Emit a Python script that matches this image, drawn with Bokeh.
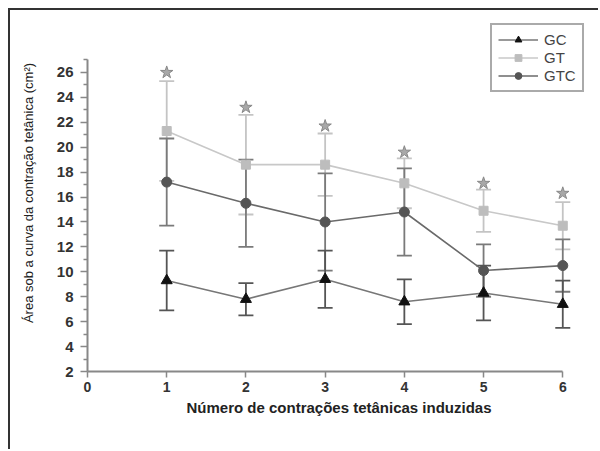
from bokeh.plotting import figure
from bokeh.models import Range1d, Whisker, ColumnDataSource, Legend, LegendItem, FixedTicker, TeeHead
from bokeh.embed import file_html
from bokeh.resources import INLINE

# ---- data ----
contractions = [1, 2, 3, 4, 5, 6]
gc = [9.3, 7.8, 9.4, 7.6, 8.3, 7.4]
gc_err = [2.4, 1.3, 2.3, 1.8, 2.2, 1.9]
gt = [21.3, 18.6, 18.6, 17.1, 14.9, 13.7]
gt_err = [4.0, 4.0, 2.5, 2.0, 1.7, 1.9]
gtc = [17.2, 15.5, 14.0, 14.8, 10.1, 10.5]
gtc_err = [3.5, 3.5, 3.9, 3.5, 2.1, 2.1]
star_y = [26.0, 23.2, 21.7, 19.6, 17.1, 16.3]
y_ticks = [2, 4, 6, 8, 10, 12, 14, 16, 18, 20, 22, 24, 26]
y_minor = [3, 5, 7, 9, 11, 13, 15, 17, 19, 21, 23, 25, 27]
x_ticks = [0, 1, 2, 3, 4, 5, 6]

FONT = "Liberation Sans"

p = figure(width=590, height=441, output_backend="svg", toolbar_location=None,
           x_range=Range1d(0, 6.35), y_range=Range1d(2, 30.65),
           min_border_left=77, min_border_right=10, min_border_top=4, min_border_bottom=80,
           styles={"margin-left": "8px", "margin-top": "8px",
                   "border-left": "2px solid #333", "border-top": "2px solid #333"})
p.outline_line_color = None
p.xgrid.visible = False
p.ygrid.visible = False

def src(y, e):
    return ColumnDataSource(dict(x=contractions, y=y,
                                 upper=[a + b for a, b in zip(y, e)],
                                 lower=[a - b for a, b in zip(y, e)]))

s_gc, s_gt, s_gtc = src(gc, gc_err), src(gt, gt_err), src(gtc, gtc_err)

def whisk(s, color):
    w = Whisker(source=s, base="x", upper="upper", lower="lower",
                line_color=color, line_width=1.8,
                upper_head=TeeHead(size=15, line_color=color, line_width=1.8),
                lower_head=TeeHead(size=15, line_color=color, line_width=1.8))
    p.add_layout(w)

whisk(s_gt, "#c4c4c4")
whisk(s_gtc, "#7a7a7a")
whisk(s_gc, "#555555")

l_gt = p.line("x", "y", source=s_gt, line_color="#c8c8c8", line_width=1.6)
m_gt = p.scatter("x", "y", source=s_gt, marker="square", size=9, fill_color="#bdbdbd", line_color="#bdbdbd")
l_gtc = p.line("x", "y", source=s_gtc, line_color="#6a6a6a", line_width=1.6)
m_gtc = p.scatter("x", "y", source=s_gtc, marker="circle", size=10, fill_color="#555555", line_color="#555555")
l_gc = p.line("x", "y", source=s_gc, line_color="#777777", line_width=1.6)
m_gc = p.scatter("x", "y", source=s_gc, marker="triangle", size=11, fill_color="#111111", line_color="#111111")

p.scatter(contractions, star_y, marker="star", size=13, fill_color="#a8a8a8", line_color="#888888")

# axes
for ax in (p.xaxis[0], p.yaxis[0]):
    ax.axis_line_color = "#888888"
    ax.axis_line_width = 2
    ax.major_tick_line_color = "#888888"
    ax.major_tick_line_width = 1.5
    ax.minor_tick_line_color = "#888888"
    ax.minor_tick_line_width = 1.5
    ax.major_label_text_font = FONT
    ax.major_label_text_font_style = "bold"
    ax.major_label_text_color = "#333333"
    ax.axis_label_text_font = FONT
    ax.axis_label_text_color = "#222222"

p.xaxis.ticker = FixedTicker(ticks=x_ticks)
p.xaxis.bounds = (0, 6)
p.xaxis.major_tick_in = 0
p.xaxis.major_tick_out = 6
p.xaxis.major_label_text_font_size = "14px"
p.xaxis.major_label_standoff = 4
p.xaxis.axis_label = "Número de contrações tetânicas induzidas"
p.xaxis.axis_label_text_font_size = "15px"
p.xaxis.axis_label_text_font_style = "bold"
p.xaxis.axis_label_standoff = 4

p.yaxis.ticker = FixedTicker(ticks=y_ticks, minor_ticks=y_minor)
p.yaxis.bounds = (2, 27)
p.yaxis.major_tick_in = 0
p.yaxis.major_tick_out = 7
p.yaxis.minor_tick_in = 0
p.yaxis.minor_tick_out = 4
p.yaxis.major_label_text_font_size = "15px"
p.yaxis.major_label_standoff = 7
p.yaxis.axis_label = "Área sob a curva da contração tetânica (cm²)"
p.yaxis.axis_label_text_font_size = "13px"
p.yaxis.axis_label_text_font_style = "normal"
p.yaxis.axis_label_standoff = 18

legend = Legend(items=[LegendItem(label="GC", renderers=[l_gc, m_gc]),
                       LegendItem(label="GT", renderers=[l_gt, m_gt]),
                       LegendItem(label="GTC", renderers=[l_gtc, m_gtc])],
                location=(403, 279))
legend.border_line_color = "#555555"
legend.border_line_width = 2
legend.label_text_font = FONT
legend.label_text_font_size = "15px"
legend.label_text_color = "#444444"
legend.glyph_width = 40
legend.glyph_height = 17
legend.label_height = 17
legend.spacing = 1
legend.padding = 6
legend.label_standoff = 6
legend.margin = 0
p.add_layout(legend)

open("out.html", "w").write(file_html(p, INLINE))
